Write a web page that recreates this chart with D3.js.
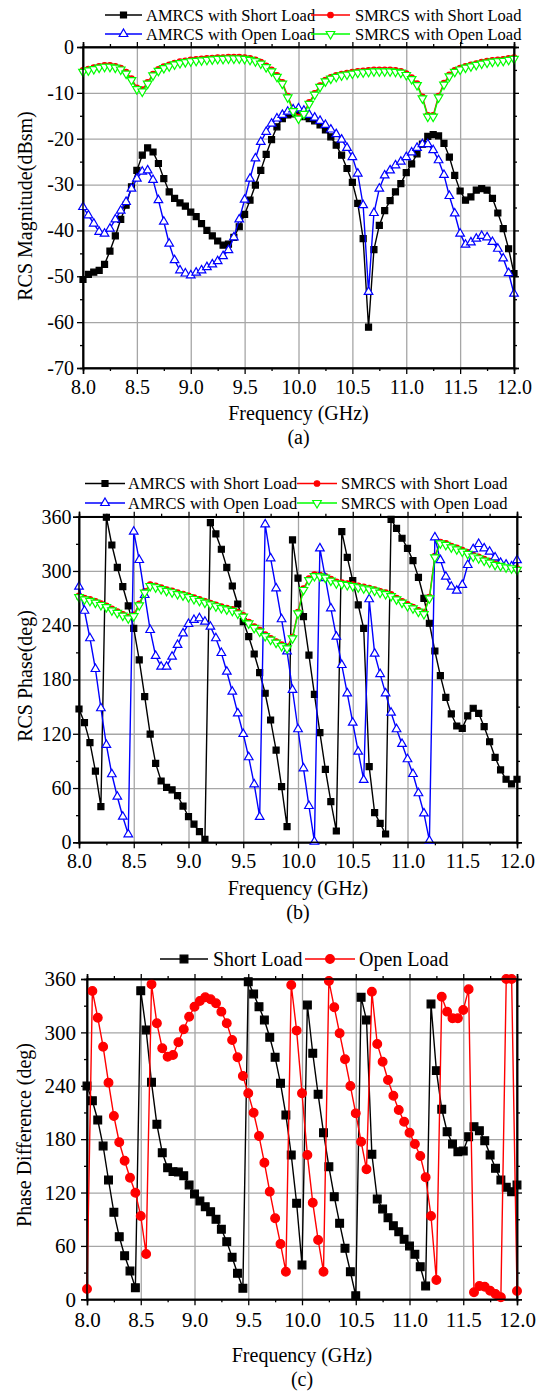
<!DOCTYPE html>
<html>
<head>
<meta charset="utf-8">
<script src="https://cdn.jsdelivr.net/npm/d3@7"></script>
<style>
body { margin: 0; background: #fff; }
text { font-family: "Liberation Serif", "Times New Roman", serif; fill: #000; }
</style>
</head>
<body>
<div id="chart"></div>
<script>
// frequency points (GHz)
const freq = [
  8.00, 8.05, 8.10, 8.15, 8.20, 8.25, 8.30, 8.35, 8.40, 8.45,
  8.50, 8.55, 8.60, 8.65, 8.70, 8.75, 8.80, 8.85, 8.90, 8.95,
  9.00, 9.05, 9.10, 9.15, 9.20, 9.25, 9.30, 9.35, 9.40, 9.45,
  9.50, 9.55, 9.60, 9.65, 9.70, 9.75, 9.80, 9.85, 9.90, 9.95,
  10.00, 10.05, 10.10, 10.15, 10.20, 10.25, 10.30, 10.35, 10.40, 10.45,
  10.50, 10.55, 10.60, 10.65, 10.70, 10.75, 10.80, 10.85, 10.90, 10.95,
  11.00, 11.05, 11.10, 11.15, 11.20, 11.25, 11.30, 11.35, 11.40, 11.45,
  11.50, 11.55, 11.60, 11.65, 11.70, 11.75, 11.80, 11.85, 11.90, 11.95,
  12.00
];

// (a) RCS magnitude, dBsm
const magAmShort = [
  -50.7, -49.6, -49.1, -48.7, -47.4, -44.5, -41.2, -37.6, -34.5, -30.5,
  -26.9, -23.6, -22.0, -22.9, -25.4, -28.7, -31.6, -33.0, -34.0, -34.7,
  -36.0, -37.0, -38.5, -40.0, -41.2, -42.3, -43.2, -43.0, -41.5, -39.2,
  -36.5, -33.4, -30.1, -26.9, -23.4, -20.2, -17.4, -15.6, -14.8, -14.6,
  -14.8, -15.2, -15.6, -16.1, -17.0, -18.1, -19.6, -21.4, -23.6, -26.5,
  -29.5, -34.1, -41.8, -61.1, -44.2, -38.9, -35.7, -33.5, -31.6, -29.8,
  -27.4, -25.5, -23.3, -21.2, -19.5, -19.1, -19.4, -21.0, -24.0, -28.0,
  -31.4, -33.4, -32.7, -31.2, -30.9, -31.2, -33.0, -36.2, -39.6, -44.0,
  -49.4
];
const magAmOpen = [
  -34.9, -36.7, -38.5, -40.3, -40.7, -39.6, -37.6, -35.7, -33.8, -30.9,
  -28.7, -27.2, -26.9, -29.0, -33.4, -38.1, -42.9, -46.5, -48.7, -49.4,
  -49.8, -49.2, -48.7, -48.0, -47.4, -46.7, -45.6, -44.3, -41.5, -37.6,
  -33.3, -28.7, -24.3, -20.7, -18.5, -16.7, -15.6, -14.8, -14.1, -13.6,
  -13.4, -13.9, -14.8, -15.4, -16.1, -17.0, -18.0, -19.0, -20.2, -22.0,
  -24.0, -27.6, -34.5, -53.4, -36.2, -30.9, -28.0, -26.9, -25.8, -25.0,
  -24.0, -23.0, -22.0, -21.2, -21.2, -22.5, -24.7, -27.9, -32.5, -36.3,
  -40.7, -43.1, -42.6, -41.8, -41.2, -41.5, -42.5, -44.0, -46.1, -49.3,
  -53.8
];
const magSmShort = [
  -5.1, -4.8, -4.5, -4.2, -4.0, -4.0, -4.2, -4.6, -5.5, -6.9,
  -8.9, -9.3, -7.7, -5.9, -4.9, -4.3, -3.9, -3.5, -3.2, -3.0,
  -2.8, -2.7, -2.6, -2.5, -2.4, -2.3, -2.3, -2.2, -2.2, -2.2,
  -2.3, -2.5, -2.8, -3.3, -4.1, -5.0, -6.2, -7.7, -10.7, -13.7,
  -15.3, -14.3, -12.1, -10.1, -8.4, -7.2, -6.6, -6.2, -5.9, -5.7,
  -5.5, -5.3, -5.2, -5.1, -5.0, -5.0, -5.0, -5.0, -5.1, -5.3,
  -5.8, -6.7, -8.0, -10.9, -14.9, -14.9, -10.7, -7.9, -6.1, -5.1,
  -4.6, -4.2, -3.9, -3.6, -3.3, -3.1, -2.9, -2.8, -2.7, -2.5,
  -2.3
];
const magSmOpen = [
  -5.4, -5.1, -4.8, -4.5, -4.3, -4.3, -4.5, -4.9, -5.8, -7.2,
  -9.2, -9.7, -8.0, -6.2, -5.2, -4.6, -4.2, -3.8, -3.5, -3.3,
  -3.1, -3.0, -2.9, -2.8, -2.7, -2.6, -2.6, -2.5, -2.5, -2.5,
  -2.6, -2.8, -3.1, -3.6, -4.4, -5.3, -6.5, -8.0, -11.0, -14.0,
  -15.6, -14.6, -12.4, -10.4, -8.7, -7.5, -6.9, -6.5, -6.2, -6.0,
  -5.8, -5.6, -5.5, -5.4, -5.3, -5.3, -5.3, -5.3, -5.4, -5.6,
  -6.1, -7.0, -8.3, -11.2, -15.2, -15.2, -11.0, -8.2, -6.4, -5.4,
  -4.9, -4.5, -4.2, -3.9, -3.6, -3.4, -3.2, -3.1, -3.0, -2.8,
  -2.6
];

// (b) RCS phase, deg
const phAmShort = [
  147.4, 132.3, 110.2, 78.8, 39.4, 359.4, 328.7, 304.0, 282.6, 261.3,
  236.6, 201.6, 161.0, 119.7, 87.3, 67.8, 60.8, 58.0, 51.5, 40.1,
  28.3, 20.0, 11.7, 3.3, 353.4, 340.9, 324.0, 304.0, 283.4, 263.5,
  244.0, 227.3, 208.2, 187.5, 164.8, 135.2, 102.0, 61.5, 17.3, 334.3,
  292.0, 249.5, 207.0, 163.6, 121.2, 80.7, 44.9, 12.5, 343.4, 315.1,
  289.3, 262.4, 236.6, 83.6, 32.7, 21.0, 9.2, 357.0, 347.2, 336.2,
  325.0, 311.4, 293.0, 269.8, 242.2, 211.5, 184.2, 160.3, 141.9, 128.6,
  126.0, 139.7, 148.2, 142.6, 127.8, 111.2, 94.0, 80.0, 69.7, 64.5,
  69.7
];
const phAmOpen = [
  282.6, 256.0, 225.6, 191.6, 148.2, 107.6, 75.2, 50.4, 28.3, 8.8,
  343.4, 312.1, 273.4, 234.7, 206.0, 194.2, 194.2, 205.2, 218.2, 231.0,
  241.4, 245.8, 247.7, 243.9, 238.4, 225.6, 209.3, 188.6, 166.5, 142.6,
  119.7, 94.0, 64.1, 28.0, 351.6, 314.0, 280.8, 246.6, 211.0, 168.4,
  125.0, 81.8, 40.1, 0.7, 325.0, 292.0, 258.7, 227.4, 196.0, 164.7,
  132.2, 100.2, 68.9, 268.7, 208.6, 186.0, 164.7, 143.3, 125.0, 108.7,
  91.8, 75.5, 54.2, 32.0, 1.8, 337.2, 312.0, 293.7, 282.6, 278.2,
  284.5, 306.6, 324.0, 329.8, 325.0, 321.3, 315.0, 309.0, 307.0, 305.0,
  312.0
];
const phSmShort = [
  272.5, 270.0, 268.5, 266.5, 264.0, 261.5, 258.0, 255.0, 252.0, 249.0,
  251.5, 263.5, 277.5, 285.0, 283.5, 281.5, 279.5, 278.0, 276.0, 274.5,
  272.5, 270.5, 268.5, 266.5, 264.5, 262.5, 260.5, 259.0, 257.5, 254.5,
  251.0, 243.5, 238.5, 234.5, 229.5, 225.5, 222.0, 218.5, 216.0, 227.0,
  254.5, 280.5, 291.5, 296.0, 295.5, 294.0, 291.0, 288.0, 287.0, 286.0,
  285.0, 283.5, 282.5, 281.0, 279.5, 277.5, 276.0, 274.0, 270.0, 266.5,
  263.0, 260.0, 256.5, 254.0, 271.0, 316.5, 332.0, 330.5, 327.5, 325.5,
  323.0, 320.5, 317.5, 315.5, 313.0, 311.0, 308.0, 307.0, 305.5, 304.5,
  302.5
];
const phSmOpen = [
  271.0, 268.5, 267.0, 265.0, 262.4, 260.0, 256.5, 253.6, 250.6, 247.7,
  250.0, 262.0, 276.0, 283.4, 282.0, 280.0, 278.0, 276.5, 274.5, 273.0,
  271.0, 269.0, 267.0, 265.0, 263.0, 261.0, 259.0, 257.5, 256.0, 253.0,
  249.5, 242.0, 237.0, 233.0, 228.0, 224.0, 220.7, 217.0, 214.5, 225.6,
  253.2, 279.0, 290.0, 294.4, 294.0, 292.6, 289.3, 286.4, 285.6, 284.5,
  283.4, 282.0, 280.8, 279.7, 278.2, 276.0, 274.5, 272.3, 268.6, 265.0,
  261.3, 258.7, 255.0, 252.4, 269.8, 315.0, 330.6, 328.8, 326.2, 324.0,
  321.5, 318.9, 316.0, 314.1, 311.5, 309.3, 306.7, 305.6, 304.1, 303.0,
  301.2
];

// (c) phase difference, deg
const pdShort = [
  239.7, 223.2, 201.5, 172.3, 134.1, 97.8, 70.4, 49.0, 31.8, 13.0,
  346.9, 302.7, 243.9, 196.7, 164.8, 147.9, 143.5, 143.0, 138.9, 128.5,
  118.4, 110.5, 104.1, 98.5, 89.9, 78.7, 64.8, 47.2, 29.2, 12.4,
  357.0, 343.2, 328.9, 313.9, 294.5, 272.0, 242.8, 207.2, 162.2, 107.9,
  38.6, 330.8, 276.5, 230.4, 187.3, 149.0, 115.3, 85.4, 57.3, 31.0,
  4.0, 339.4, 313.9, 163.0, 112.7, 101.5, 91.7, 82.7, 76.0, 67.4,
  59.9, 50.6, 36.6, 14.9, 331.9, 257.0, 213.6, 188.4, 174.6, 165.9,
  166.7, 182.8, 194.0, 189.5, 178.3, 162.2, 147.2, 134.1, 125.9, 120.9,
  128.5
];
const pdOpen = [
  11.6, 346.5, 316.5, 283.9, 243.5, 206.0, 176.5, 155.8, 136.7, 119.8,
  93.6, 50.9, 354.0, 310.2, 282.1, 272.7, 274.6, 288.9, 303.5, 317.6,
  328.9, 335.3, 339.4, 337.2, 332.7, 323.3, 310.2, 291.4, 272.0, 251.0,
  231.5, 209.7, 183.5, 153.5, 121.0, 91.0, 62.2, 31.0, 353.3, 302.0,
  231.5, 162.2, 108.6, 66.7, 31.0, 357.8, 328.2, 299.0, 269.8, 239.7,
  209.0, 177.1, 146.1, 345.7, 287.0, 267.0, 246.5, 228.8, 212.8, 199.6,
  187.3, 174.6, 161.0, 137.1, 93.6, 21.7, 340.1, 323.3, 315.8, 315.8,
  325.2, 348.4, 7.9, 14.9, 14.2, 9.7, 6.0, 2.4, 360.0, 360.0,
  9.3
];

// tick labels
const xTicks = [8.0, 8.5, 9.0, 9.5, 10.0, 10.5, 11.0, 11.5, 12.0];
const xMinor = [8.25, 8.75, 9.25, 9.75, 10.25, 10.75, 11.25, 11.75];
const magTicks = [-70, -60, -50, -40, -30, -20, -10, 0];
const magMinor = [-65, -55, -45, -35, -25, -15, -5];
const degTicks = [0, 60, 120, 180, 240, 300, 360];
const degMinor = [30, 90, 150, 210, 270, 330];

const FONT = '"Liberation Serif", "Times New Roman", serif';

const svg = d3.select('#chart').append('svg')
  .attr('width', 544)
  .attr('height', 1392);

function marker(sel, type, size, color, fill) {
  sel.attr('d', d3.symbol().type(type).size(size))
    .attr('fill', fill)
    .attr('stroke', color)
    .attr('stroke-width', 1.2);
}

function drawPanel(p) {
  const x = d3.scaleLinear().domain([8, 12]).range([p.left, p.right]);
  const y = d3.scaleLinear().domain(p.yDomain).range([p.bottom, p.top]);
  const g = svg.append('g');
  const h = p.bottom - p.top, w = p.right - p.left;

  // grid
  g.append('g')
    .attr('transform', `translate(0,${p.bottom})`)
    .call(d3.axisBottom(x).tickValues(xTicks).tickSize(-h).tickFormat(''))
    .call(s => s.select('.domain').remove())
    .selectAll('line').attr('stroke', '#a6a6a6').attr('stroke-width', 1.3);
  g.append('g')
    .attr('transform', `translate(${p.left},0)`)
    .call(d3.axisLeft(y).tickValues(p.yTicks).tickSize(-w).tickFormat(''))
    .call(s => s.select('.domain').remove())
    .selectAll('line').attr('stroke', '#a6a6a6').attr('stroke-width', 1.3);

  // axes
  const bottom = g.append('g')
    .attr('transform', `translate(0,${p.bottom})`)
    .call(d3.axisBottom(x).tickValues(xTicks).tickSize(6).tickPadding(p.xPad).tickFormat(d3.format('.1f')));
  bottom.attr('font-family', FONT).selectAll('text').attr('font-size', p.tickFont);
  g.append('g').attr('transform', `translate(0,${p.bottom})`)
    .call(d3.axisBottom(x).tickValues(xMinor).tickSize(3).tickFormat(''));
  g.append('g').attr('transform', `translate(0,${p.top})`)
    .call(d3.axisTop(x).tickValues(xTicks).tickSize(5).tickFormat(''));
  g.append('g').attr('transform', `translate(0,${p.top})`)
    .call(d3.axisTop(x).tickValues(xMinor).tickSize(3).tickFormat(''));

  const left = g.append('g')
    .attr('transform', `translate(${p.left},0)`)
    .call(d3.axisLeft(y).tickValues(p.yTicks).tickSize(6).tickPadding(p.yPad).tickFormat(d => String(d)));
  left.attr('font-family', FONT).selectAll('text').attr('font-size', p.tickFont);
  g.append('g').attr('transform', `translate(${p.left},0)`)
    .call(d3.axisLeft(y).tickValues(p.yMinor).tickSize(3).tickFormat(''));
  g.append('g').attr('transform', `translate(${p.right},0)`)
    .call(d3.axisRight(y).tickValues(p.yTicks).tickSize(5).tickFormat(''));
  g.append('g').attr('transform', `translate(${p.right},0)`)
    .call(d3.axisRight(y).tickValues(p.yMinor).tickSize(3).tickFormat(''));

  g.selectAll('.domain').attr('stroke', '#000').attr('stroke-width', 1.5);
  g.selectAll('.tick line').filter(function () { return this.getAttribute('stroke') !== '#a6a6a6'; })
    .attr('stroke-width', 1.3);

  // series
  p.series.forEach(s => {
    const pts = freq.map((f, i) => [f, s.values[i]]);
    g.append('path')
      .datum(pts)
      .attr('fill', 'none')
      .attr('stroke', s.color)
      .attr('stroke-width', 1.4)
      .attr('d', d3.line().x(d => x(d[0])).y(d => y(d[1])));
    g.append('g').selectAll('path').data(pts).join('path')
      .attr('transform', d => `translate(${x(d[0])},${y(d[1])})${s.flip ? ' rotate(180)' : ''}`)
      .call(marker, s.symbol, s.size, s.color, s.fill);
  });

  // frame
  g.append('rect')
    .attr('x', p.left).attr('y', p.top).attr('width', w).attr('height', h)
    .attr('fill', 'none').attr('stroke', '#000').attr('stroke-width', 1.5);

  // titles
  g.append('text')
    .attr('x', (p.left + p.right) / 2).attr('y', p.xTitleY)
    .attr('text-anchor', 'middle').attr('font-size', 20)
    .text('Frequency (GHz)');
  g.append('text')
    .attr('x', (p.left + p.right) / 2).attr('y', p.capY)
    .attr('text-anchor', 'middle').attr('font-size', 20)
    .text(p.caption);
  g.append('text')
    .attr('transform', `translate(${p.yTitleX},${p.yTitleMid}) rotate(-90)`)
    .attr('text-anchor', 'middle').attr('font-size', 20)
    .text(p.yTitle);

  // legend
  p.legend.forEach(l => {
    const s = p.series[l.idx];
    g.append('line')
      .attr('x1', l.x1).attr('x2', l.x2).attr('y1', l.y).attr('y2', l.y)
      .attr('stroke', s.color).attr('stroke-width', 1.4);
    g.append('path')
      .attr('transform', `translate(${(l.x1 + l.x2) / 2},${l.y})${s.flip ? ' rotate(180)' : ''}`)
      .call(marker, s.symbol, s.size, s.color, s.fill);
    g.append('text')
      .attr('x', l.tx).attr('y', l.y).attr('dy', '0.35em')
      .attr('font-size', p.legendFont)
      .text(s.name);
  });
}

function fourSeries(vals) {
  return [
    { name: 'AMRCS with Short Load', values: vals[0], color: '#000000', symbol: d3.symbolSquare, size: 36, fill: '#000000' },
    { name: 'SMRCS with Short Load', values: vals[1], color: '#ff0000', symbol: d3.symbolCircle, size: 24, fill: '#ff0000' },
    { name: 'AMRCS with Open Load', values: vals[2], color: '#0000ff', symbol: d3.symbolTriangle, size: 32, fill: '#ffffff' },
    { name: 'SMRCS with Open Load', values: vals[3], color: '#00ff00', symbol: d3.symbolTriangle, size: 32, fill: '#ffffff', flip: true }
  ];
}

drawPanel({
  left: 83, right: 514, top: 47, bottom: 368,
  yDomain: [-70, 0], yTicks: magTicks, yMinor: magMinor,
  tickFont: 20, xPad: 6, yPad: 3,
  xTitleY: 420, capY: 444, caption: '(a)',
  yTitle: 'RCS Magnitude(dBsm)', yTitleX: 32, yTitleMid: 206,
  series: fourSeries([magAmShort, magSmShort, magAmOpen, magSmOpen]),
  legendFont: 16.5,
  legend: [
    { idx: 0, x1: 105, x2: 142, y: 15, tx: 146 },
    { idx: 1, x1: 311, x2: 350, y: 15, tx: 355 },
    { idx: 2, x1: 105, x2: 142, y: 34, tx: 146 },
    { idx: 3, x1: 311, x2: 350, y: 34, tx: 355 }
  ]
});

drawPanel({
  left: 79, right: 517, top: 516.7, bottom: 842.3,
  yDomain: [0, 360], yTicks: degTicks, yMinor: degMinor,
  tickFont: 20, xPad: 5.5, yPad: 1.5,
  xTitleY: 895, capY: 919, caption: '(b)',
  yTitle: 'RCS Phase(deg)', yTitleX: 32, yTitleMid: 676,
  series: fourSeries([phAmShort, phSmShort, phAmOpen, phSmOpen]),
  legendFont: 16.5,
  legend: [
    { idx: 0, x1: 85, x2: 125, y: 483.5, tx: 128 },
    { idx: 1, x1: 297, x2: 337, y: 483.5, tx: 341 },
    { idx: 2, x1: 85, x2: 125, y: 503, tx: 128 },
    { idx: 3, x1: 297, x2: 337, y: 503, tx: 341 }
  ]
});

drawPanel({
  left: 87, right: 517, top: 979, bottom: 1299.3,
  yDomain: [0, 360], yTicks: degTicks, yMinor: degMinor,
  tickFont: 21, xPad: 7, yPad: 5,
  xTitleY: 1362, capY: 1386, caption: '(c)',
  yTitle: 'Phase Difference (deg)', yTitleX: 31, yTitleMid: 1135,
  series: [
    { name: 'Short Load', values: pdShort, color: '#000000', symbol: d3.symbolSquare, size: 60, fill: '#000000' },
    { name: 'Open Load', values: pdOpen, color: '#ff0000', symbol: d3.symbolCircle, size: 60, fill: '#ff0000' }
  ],
  legendFont: 20,
  legend: [
    { idx: 0, x1: 160, x2: 208, y: 959, tx: 213 },
    { idx: 1, x1: 305, x2: 355, y: 959, tx: 359 }
  ]
});
</script>
</body>
</html>
